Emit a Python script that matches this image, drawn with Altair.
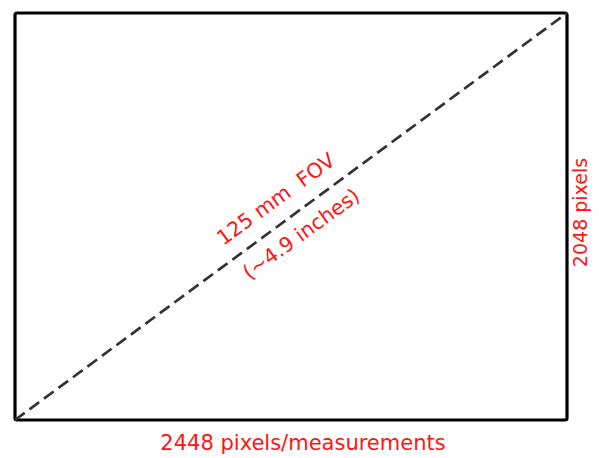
import altair as alt
import pandas as pd

# ---- data ----
sensor_width_px = [0, 2448]
sensor_height_px = [0, 2048]
fov_label = ["125 mm\u00a0 FOV"]
fov_sub_label = ["(~4.9 inches)"]
width_label = ["2448 pixels/measurements"]
height_label = ["2048 pixels"]

W, H = 552, 407
RED = "#ff1414"
FONT = "DejaVu Sans"

xs = alt.Scale(domain=sensor_width_px, nice=False, zero=False)
ys = alt.Scale(domain=sensor_height_px, nice=False, zero=False)

frame_df = pd.DataFrame({
    "x0": [sensor_width_px[0]], "x1": [sensor_width_px[1]],
    "y0": [sensor_height_px[0]], "y1": [sensor_height_px[1]],
})
diag_df = pd.DataFrame({"x": sensor_width_px, "y": sensor_height_px})
mid_x = sum(sensor_width_px) / 2
mid_y = sum(sensor_height_px) / 2

frame = alt.Chart(frame_df).mark_rect(
    fillOpacity=0, stroke="black", strokeWidth=3.2, cornerRadius=2
).encode(
    x=alt.X("x0:Q", scale=xs, axis=None),
    x2="x1:Q",
    y=alt.Y("y0:Q", scale=ys, axis=None),
    y2="y1:Q",
)

diag = alt.Chart(diag_df).mark_line(
    color="#333333", strokeWidth=2.7, strokeDash=[12, 6]
).encode(
    x=alt.X("x:Q", scale=xs, axis=None),
    y=alt.Y("y:Q", scale=ys, axis=None),
)

def label(texts, x, y, size, **kw):
    df = pd.DataFrame({"t": texts, "x": [x], "y": [y]})
    return alt.Chart(df).mark_text(
        color=RED, font=FONT, fontSize=size, baseline="middle", align="center", **kw
    ).encode(
        x=alt.X("x:Q", scale=xs, axis=None),
        y=alt.Y("y:Q", scale=ys, axis=None),
        text="t:N",
    )

fov = label(fov_label, mid_x, mid_y, 20.5, angle=324, dx=-2, dy=-22)
fov_sub = label(fov_sub_label, mid_x, mid_y, 20.5, angle=324, dx=-2, dy=21)
bottom = label(width_label, mid_x, sensor_height_px[0], 21, dx=12, dy=24)
right = label(height_label, sensor_width_px[1], mid_y, 19, angle=270, dx=4, dy=14)

chart = alt.layer(frame, diag, fov, fov_sub, bottom, right).properties(
    width=W, height=H,
    autosize=alt.AutoSizeParams(type="none"),
    padding={"left": 7, "top": 5, "right": 24, "bottom": 38},
    background="white",
).configure_view(stroke=None)

chart.save("out.html", embed_options={"renderer": "svg", "actions": False})
